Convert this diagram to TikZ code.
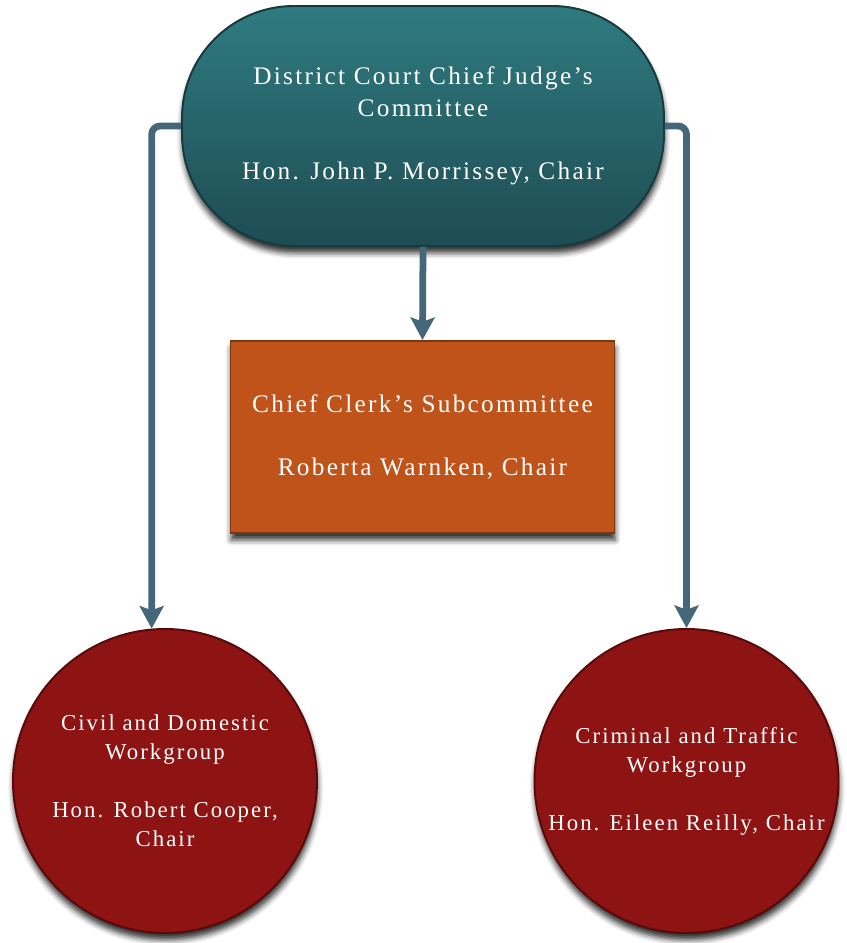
\documentclass[tikz,border=0pt]{standalone}
\usepackage{fontspec}
\setmainfont[LetterSpace=9]{Liberation Serif}
\usetikzlibrary{arrows.meta,shadows.blur}
\definecolor{tealtop}{HTML}{2F7B80}
\definecolor{tealbot}{HTML}{1E4C53}
\definecolor{tealline}{HTML}{163A3E}
\definecolor{clerkfill}{HTML}{C0531A}
\definecolor{clerkline}{HTML}{7E360C}
\definecolor{groupfill}{HTML}{8E1414}
\definecolor{groupline}{HTML}{580A0A}
\definecolor{linkblue}{HTML}{44677A}
\begin{document}
\begin{tikzpicture}
				\useasboundingbox (0,0) rectangle (21.15,23.575);
				\tikzstyle{Box} = [draw, line width=1.4pt, text=white, align=center, blur shadow={shadow xshift=0.5pt, shadow yshift=-5pt, shadow blur radius=4pt, shadow opacity=80}]
				\tikzstyle{Judge} = [Box, rectangle, rounded corners=2.8cm, minimum width=12.05cm, minimum height=6cm, top color=tealtop, bottom color=tealbot, draw=tealline, font=\fontsize{18}{22.5}\selectfont]
				\tikzstyle{Clerk} = [Box, rectangle, minimum width=9.6cm, minimum height=4.8cm, fill=clerkfill, draw=clerkline, font=\fontsize{18}{22.5}\selectfont]
				\tikzstyle{Group} = [Box, circle, minimum size=7.6cm, inner sep=0pt, fill=groupfill, draw=groupline, font=\fontsize{16.2}{20.6}\selectfont]
				\tikzstyle{Link} = [line width=4.8pt, draw=linkblue, rounded corners=6pt, -{Stealth[width=17pt, length=16pt, inset=3pt]}]
				\node (1) at (10.575,20.425) [Judge] {District Court Chief Judge’s\\Committee\\[22.5pt]Hon. John P. Morrissey, Chair};
				\node (2) at (10.5625,12.65) [Clerk] {Chief Clerk’s Subcommittee\\[22.5pt]Roberta Warnken, Chair};
				\node (3) at (4.125,4.05) [Group] {Civil and Domestic\\Workgroup\\[20.6pt]Hon. Robert Cooper,\\Chair};
				\node (4) at (17.1625,4.05) [Group] {Criminal and Traffic\\Workgroup\\[20.6pt]Hon. Eileen Reilly, Chair};
				\draw [Link] (1.south) to (2.north);
				\draw [Link] (1.west) -| (3.95);
				\draw [Link] (1.east) -| (4.north);
			\end{tikzpicture}
\end{document}
